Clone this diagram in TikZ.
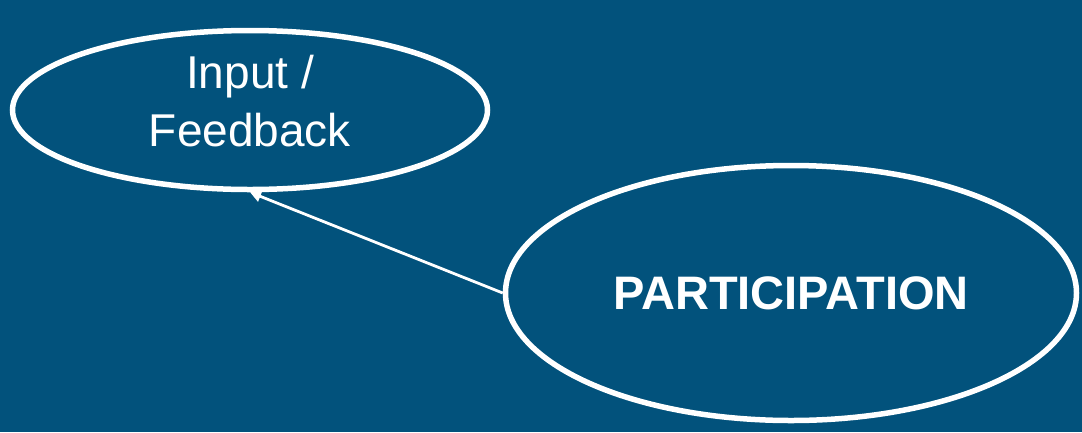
\documentclass[tikz,border=0pt]{standalone}
\usepackage{fontspec}
\setmainfont{Liberation Sans}
\usetikzlibrary{shapes.geometric,arrows.meta}
\definecolor{bgblue}{RGB}{2,82,124}
\tikzset{
  oval/.style={ellipse, draw=white, line width=5.5pt, inner sep=0pt, text=white, align=center},
  link/.style={draw=white, line width=2.8pt, -{Triangle[length=11pt,width=11pt]}}
}
\begin{document}
\begin{tikzpicture}[x=1pt,y=-1pt]
\fill[bgblue] (0,0) rectangle (1082,432);
\useasboundingbox (0,0) rectangle (1082,432);
\node[oval, minimum width=475pt, minimum height=159pt] (inp) at (250,110) {};
\node[text=white, align=center, font=\fontsize{46}{58}\selectfont] (inptext) at (250,101) {Input /\\Feedback};
\node[oval, minimum width=571pt, minimum height=255pt, font=\fontsize{47}{54}\selectfont\bfseries] (par) at (791,293) {PARTICIPATION};
\draw[link] (par.west) -- (inp.south);
\end{tikzpicture}
\end{document}
